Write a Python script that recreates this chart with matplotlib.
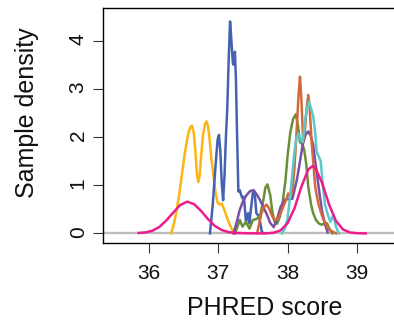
import matplotlib
matplotlib.use("Agg")
import matplotlib.pyplot as plt

plt.rcParams['font.family'] = ['Liberation Sans', 'DejaVu Sans']

# ---- data (PHRED score vs. sample density) ----
yellow_x = [36.32, 36.36, 36.40, 36.44, 36.47, 36.51, 36.54, 36.57, 36.60, 36.62, 36.645, 36.67,
            36.69, 36.71, 36.73, 36.755, 36.78, 36.81, 36.83, 36.85, 36.875, 36.90, 36.93, 36.96,
            36.99, 37.02, 37.05, 37.08, 37.12, 37.16, 37.20, 37.24]
yellow_y = [0.0, 0.2, 0.49, 0.85, 1.18, 1.6, 1.87, 2.1, 2.22, 2.24, 2.1, 1.7,
            1.25, 1.07, 1.2, 1.65, 2.05, 2.28, 2.33, 2.25, 1.95, 1.55, 1.2, 0.85,
            0.64, 0.6, 0.62, 0.52, 0.35, 0.2, 0.08, 0.0]

blue_x = [36.88, 36.92, 36.96, 36.99, 37.01, 37.03, 37.05, 37.07, 37.09, 37.11, 37.13, 37.15,
          37.17, 37.19, 37.21, 37.22, 37.24, 37.255, 37.27, 37.29, 37.31, 37.33, 37.35, 37.37,
          37.40, 37.43, 37.45, 37.47, 37.50, 37.53, 37.55, 37.59, 37.63, 37.66]
blue_y = [0.0, 0.6, 1.4, 1.95, 2.05, 1.7, 1.05, 0.69, 1.2, 2.0, 2.6, 3.6,
          4.41, 4.0, 3.55, 3.51, 3.78, 3.2, 2.15, 0.87, 0.9, 0.8, 0.73, 0.76,
          0.24, 0.42, 0.21, 0.49, 0.85, 0.78, 0.42, 0.35, 0.03, 0.0]

purple_x = [37.22, 37.26, 37.31, 37.36, 37.41, 37.46, 37.51, 37.56, 37.60, 37.65, 37.70, 37.75,
            37.80, 37.85, 37.90, 37.96, 38.02, 38.07, 38.10, 38.14, 38.18, 38.22, 38.26, 38.30,
            38.33, 38.37, 38.40, 38.43, 38.46, 38.50, 38.54, 38.58]
purple_y = [0.0, 0.2, 0.49, 0.68, 0.8, 0.88, 0.9, 0.8, 0.7, 0.55, 0.4, 0.22,
            0.13, 0.3, 0.55, 0.7, 0.72, 0.72, 0.9, 1.15, 1.5, 1.85, 2.05, 2.12,
            2.05, 1.85, 1.5, 1.18, 0.85, 0.45, 0.2, 0.02]

green_x = [37.24, 37.28, 37.31, 37.35, 37.40, 37.45, 37.50, 37.55, 37.60, 37.64, 37.68, 37.71,
           37.75, 37.78, 37.81, 37.85, 37.89, 37.93, 37.97, 38.00, 38.04, 38.08, 38.12, 38.15,
           38.18, 38.21, 38.24, 38.27, 38.30, 38.34, 38.37, 38.41, 38.45, 38.49, 38.53, 38.57,
           38.61, 38.65]
green_y = [0.0, 0.15, 0.28, 0.14, 0.24, 0.1, 0.28, 0.3, 0.35, 0.6, 0.95, 1.02,
           0.8, 0.45, 0.25, 0.2, 0.35, 0.65, 1.1, 1.6, 2.1, 2.38, 2.48, 2.25,
           1.9, 1.86, 1.75, 1.45, 0.97, 0.6, 0.42, 0.28, 0.21, 0.18, 0.2, 0.21,
           0.08, 0.0]

orange_x = [37.56, 37.59, 37.62, 37.66, 37.70, 37.74, 37.78, 37.82, 37.86, 37.90, 37.94, 37.98,
            38.01, 38.04, 38.07, 38.10, 38.13, 38.16, 38.18, 38.20, 38.225, 38.25, 38.275, 38.30,
            38.32, 38.35, 38.40, 38.44, 38.48, 38.52, 38.57, 38.61, 38.66, 38.70]
orange_y = [0.0, 0.2, 0.4, 0.55, 0.6, 0.5, 0.35, 0.28, 0.3, 0.42, 0.56, 0.7,
            0.83, 0.76, 0.9, 1.35, 2.1, 2.9, 3.26, 2.8, 1.95, 2.1, 2.6, 2.88,
            2.6, 1.87, 0.97, 0.65, 0.45, 0.28, 0.15, 0.07, 0.03, 0.0]

cyan_x = [37.92, 37.96, 38.00, 38.04, 38.07, 38.10, 38.13, 38.16, 38.19, 38.22, 38.25, 38.28,
          38.31, 38.34, 38.37, 38.40, 38.42, 38.45, 38.48, 38.51, 38.54, 38.58, 38.62, 38.66,
          38.70, 38.74]
cyan_y = [0.0, 0.1, 0.3, 0.8, 1.25, 1.7, 2.0, 2.08, 1.95, 1.9, 2.3, 2.6,
          2.74, 2.6, 2.45, 2.1, 1.7, 1.6, 1.5, 1.0, 0.6, 0.4, 0.24, 0.38,
          0.14, 0.0]

pink_x = [35.85, 35.95, 36.05, 36.15, 36.25, 36.35, 36.45, 36.55, 36.65, 36.75, 36.85, 36.95,
          37.05, 37.15, 37.25, 37.40, 37.60, 37.70, 37.80, 37.90, 38.00, 38.10, 38.20, 38.30,
          38.36, 38.40, 38.50, 38.60, 38.70, 38.80, 38.90, 39.00, 39.13]
pink_y = [0.01, 0.02, 0.056, 0.135, 0.27, 0.435, 0.59, 0.66, 0.61, 0.47, 0.30, 0.155,
          0.07, 0.025, 0.01, 0.003, 0.0, 0.002, 0.014, 0.063, 0.21, 0.52, 0.97, 1.33,
          1.40, 1.37, 1.05, 0.60, 0.26, 0.083, 0.02, 0.004, 0.0]

x_ticks = [36, 37, 38, 39]
y_ticks = [0, 1, 2, 3, 4]

series = [
    (yellow_x, yellow_y, '#FDB515'),
    (blue_x, blue_y, '#4462B0'),
    (green_x, green_y, '#6A8E3A'),
    (purple_x, purple_y, '#7A4FA6'),
    (orange_x, orange_y, '#D2693A'),
    (cyan_x, cyan_y, '#5CC8CA'),
    (pink_x, pink_y, '#EC1C8C'),
]

fig = plt.figure(figsize=(3.94, 3.26), dpi=100)
ax = fig.add_axes([103 / 394, 83 / 326, 323 / 394, 235 / 326])

ax.axhline(0, color='#BEBEBE', lw=1.7, zorder=1)
for xs, ys, c in series:
    ax.plot(xs, ys, color=c, lw=1.8, solid_joinstyle='round', zorder=2)

ax.set_xlim(35.335, 40.0)
ax.set_ylim(-0.20, 4.69)
ax.set_xticks(x_ticks)
ax.set_yticks(y_ticks)
ax.set_xticklabels([str(t) for t in x_ticks])
ax.set_yticklabels([str(t) for t in y_ticks])

for side in ['left', 'top', 'bottom']:
    ax.spines[side].set_linewidth(1.0)
    ax.spines[side].set_color('black')
ax.spines['right'].set_visible(False)

ax.tick_params(axis='both', direction='out', length=7, width=0.8, color='#333333',
               labelsize=15, labelcolor='#111111')
ax.tick_params(axis='x', pad=8)
ax.tick_params(axis='y', pad=4, labelrotation=90)

ax.set_xlabel('PHRED score', fontsize=18, color='#111111')
ax.set_ylabel('Sample density', fontsize=18, color='#111111')
ax.xaxis.set_label_coords(0.5, -0.225)
ax.yaxis.set_label_coords(-0.198, 0.555)

fig.savefig('out.png', dpi=100)
